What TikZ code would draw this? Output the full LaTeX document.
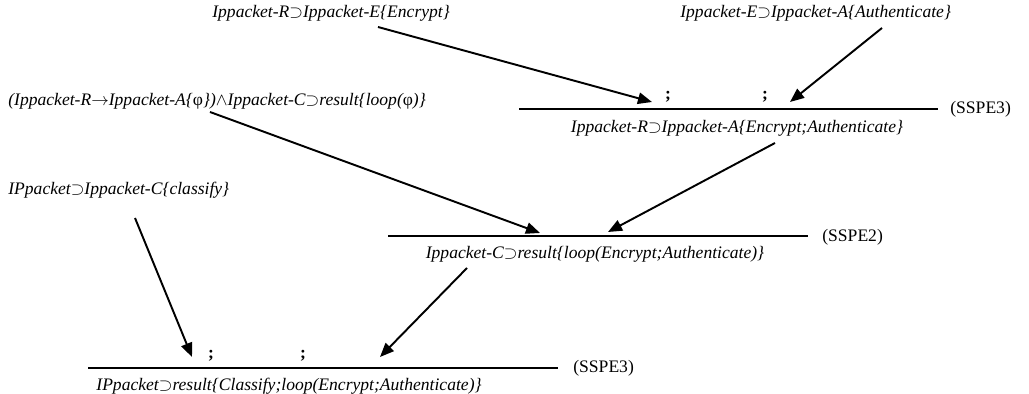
\documentclass[tikz,border=0pt]{standalone}
\usepackage{fontspec}
\setmainfont{Liberation Serif}
\usepackage{tikz}
\usetikzlibrary{calc,arrows.meta}

\tikzset{
  formula/.style={font=\itshape\fontsize{10}{12}\selectfont, inner sep=0pt},
  rulename/.style={font=\fontsize{10}{12}\selectfont, inner sep=0pt, anchor=west},
  semi/.style={font=\bfseries\fontsize{10}{12}\selectfont, inner sep=0pt},
  infer/.style={line width=0.8pt},
  deriv/.style={line width=1.1pt, -{Triangle[length=8pt, width=6.5pt]}}
}

\newcommand{\sups}{\ensuremath{\supset}}

\begin{document}
\begin{tikzpicture}[x=0.02cm, y=-0.02cm]
  \useasboundingbox (0,0) rectangle (1029,394);

  % Top step: Encrypt then Authenticate
  \node[formula, anchor=west] (enc) at (212,13) {Ippacket-R\sups Ippacket-E\{Encrypt\}};
  \node[formula, anchor=west] (auth) at (680,13) {Ippacket-E\sups Ippacket-A\{Authenticate\}};
  \coordinate (r1w) at (519,109);
  \coordinate (r1e) at (938,109);
  \draw[infer] (r1w) -- (r1e);
  \node[semi] (s1a) at (668,97) {;};
  \node[semi] (s1b) at (765,97) {;};
  \node[rulename] (sspe3a) at (950,109) {(SSPE3)};
  \node[formula] (encauth) at (737,128) {Ippacket-R\sups Ippacket-A\{Encrypt;Authenticate\}};

  \coordinate (a1s) at (378,27);
  \coordinate (a1t) at (652,102);
  \coordinate (a2s) at (882,28);
  \coordinate (a2t) at (790,102);
  \draw[deriv] (a1s) -- (a1t);
  \draw[deriv] (a2s) -- (a2t);

  % Middle step: loop over the sequence
  \node[formula, anchor=west] (loopax) at (8,101) {(Ippacket-R$\rightarrow$Ippacket-A\{{\upshape φ}\})$\wedge$Ippacket-C\sups result\{loop({\upshape φ})\}};
  \coordinate (r2w) at (388,236);
  \coordinate (r2e) at (808,236);
  \draw[infer] (r2w) -- (r2e);
  \node[rulename] (sspe2) at (822,237) {(SSPE2)};
  \node[formula] (loopres) at (595,254) {Ippacket-C\sups result\{loop(Encrypt;Authenticate)\}};

  \coordinate (a3s) at (210,112);
  \coordinate (a3t) at (540,233);
  \coordinate (a4s) at (775,143);
  \coordinate (a4t) at (608,232);
  \draw[deriv] (a3s) -- (a3t);
  \draw[deriv] (a4s) -- (a4t);

  % Bottom step: classify, then the loop
  \node[formula, anchor=west] (classify) at (8,190) {IPpacket\sups Ippacket-C\{classify\}};
  \coordinate (r3w) at (88,368);
  \coordinate (r3e) at (558,368);
  \draw[infer] (r3w) -- (r3e);
  \node[semi] (s3a) at (211,356) {;};
  \node[semi] (s3b) at (303,356) {;};
  \node[rulename] (sspe3b) at (573,368) {(SSPE3)};
  \node[formula] (final) at (289,386) {IPpacket\sups result\{Classify;loop(Encrypt;Authenticate)\}};

  \coordinate (a5s) at (135,218);
  \coordinate (a5t) at (192,357);
  \coordinate (a6s) at (467,268);
  \coordinate (a6t) at (380,357);
  \draw[deriv] (a5s) -- (a5t);
  \draw[deriv] (a6s) -- (a6t);
\end{tikzpicture}
\end{document}
